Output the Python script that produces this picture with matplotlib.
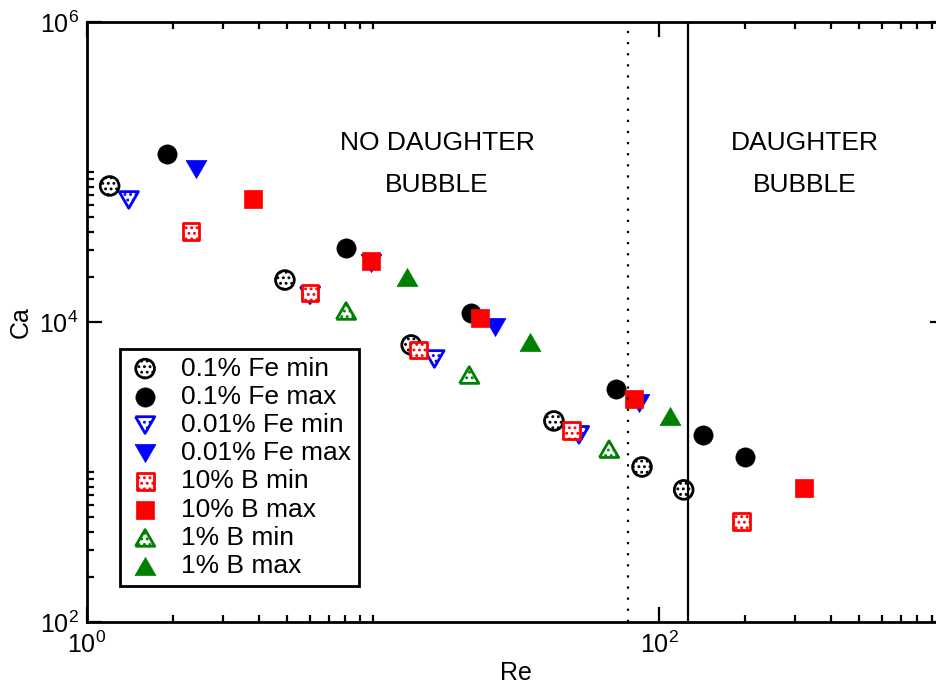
import matplotlib
matplotlib.use("Agg")
import matplotlib.pyplot as plt
from matplotlib.ticker import FixedLocator, LogFormatterSciNotation, NullFormatter
import numpy as np

plt.rcParams['font.family'] = ['Liberation Sans', 'DejaVu Sans']
plt.rcParams['mathtext.default'] = 'regular'
plt.rcParams['hatch.linewidth'] = 1.3

# ---- data (Re, Ca) ----
re_fe01_min = [1.20, 4.92, 13.6, 42.9, 87.2, 122]
ca_fe01_min = [80700, 19050, 7030, 2190, 1080, 760]

re_fe01_max = [1.90, 8.05, 22.0, 70.7, 142, 200]
ca_fe01_max = [131800, 31100, 11500, 3580, 1770, 1260]

re_fe001_min = [1.40, 6.02, 16.4, 52.5]
ca_fe001_min = [65100, 15100, 5670, 1770]

re_fe001_max = [2.40, 9.84, 26.7, 85.1]
ca_fe001_max = [104700, 24700, 9260, 2880]

re_b10_min = [2.31, 6.02, 14.4, 49.6, 195]
ca_b10_min = [40400, 15600, 6510, 1880, 471]

re_b10_max = [3.80, 9.84, 23.7, 81.8, 321]
ca_b10_max = [66100, 25500, 10600, 3070, 782]

re_b1_min = [8.05, 21.7, 66.9]
ca_b1_min = [11840, 4430, 1420]

re_b1_max = [13.2, 35.4, 109]
ca_b1_max = [19950, 7360, 2360]

re_dotted = 77.9
re_solid = 126.3

labels = ["0.1% Fe min", "0.1% Fe max", "0.01% Fe min", "0.01% Fe max",
          "10% B min", "10% B max", "1% B min", "1% B max"]

x_major = [1, 100]
x_minor = [2, 3, 4, 5, 6, 7, 8, 9, 10, 200, 300, 400, 500, 600, 700, 800, 900]
y_major = [1e2, 1e4, 1e6]
y_minor = [200, 300, 400, 500, 600, 700, 800, 900, 1000,
           2e4, 3e4, 4e4, 5e4, 6e4, 7e4, 8e4, 9e4, 1e5]

# equilateral triangle markers
tri_down = [(-1, 0.866), (1, 0.866), (0, -0.866), (-1, 0.866)]
tri_up = [(-1, -0.866), (1, -0.866), (0, 0.866), (-1, -0.866)]

fig = plt.figure(figsize=(9.36, 6.95), dpi=100)
ax = fig.add_axes([87/936, 73/695, 858/936, 600/695])
ax.set_xscale('log')
ax.set_yscale('log')
ax.set_xlim(1, 1000)
ax.set_ylim(1e2, 1e6)

circ_s = 13.5**2
sq_s = 12.5**2
tri_s = 15**2
lw_e = 2.0
hatch = '...'

handles = []
with plt.rc_context({'hatch.color': 'black'}):
    h = ax.scatter(re_fe01_min, ca_fe01_min, s=circ_s, marker='o', facecolors='white',
                   edgecolors='black', linewidths=lw_e, hatch=hatch, zorder=2)
handles.append(h)
h = ax.scatter(re_fe01_max, ca_fe01_max, s=circ_s*1.05, marker='o', facecolors='black',
               edgecolors='black', linewidths=0.5, zorder=2)
handles.append(h)
with plt.rc_context({'hatch.color': 'blue'}):
    h = ax.scatter(re_fe001_min, ca_fe001_min, s=tri_s*0.85, marker=tri_down, facecolors='white',
                   edgecolors='blue', linewidths=lw_e, hatch=hatch, zorder=2)
handles.append(h)
h = ax.scatter(re_fe001_max, ca_fe001_max, s=tri_s, marker=tri_down, facecolors='blue',
               edgecolors='blue', linewidths=0.5, zorder=2)
handles.append(h)
with plt.rc_context({'hatch.color': 'red'}):
    h = ax.scatter(re_b10_min, ca_b10_min, s=sq_s*0.95, marker='s', facecolors='white',
                   edgecolors='red', linewidths=lw_e, hatch=hatch, zorder=2)
handles.append(h)
h = ax.scatter(re_b10_max, ca_b10_max, s=sq_s, marker='s', facecolors='red',
               edgecolors='red', linewidths=0.5, zorder=2)
handles.append(h)
with plt.rc_context({'hatch.color': 'green'}):
    h = ax.scatter(re_b1_min, ca_b1_min, s=tri_s*0.85, marker=tri_up, facecolors='white',
                   edgecolors='green', linewidths=lw_e, hatch=hatch, zorder=2)
handles.append(h)
h = ax.scatter(re_b1_max, ca_b1_max, s=tri_s, marker=tri_up, facecolors='green',
               edgecolors='green', linewidths=0.5, zorder=2)
handles.append(h)

ax.axvline(re_dotted, color='black', lw=1.6, linestyle=(0, (1, 4)), zorder=3)
ax.axvline(re_solid, color='black', lw=1.6, zorder=3)

ax.text(0.408, 0.798, "NO DAUGHTER", transform=ax.transAxes, ha='center', va='center', fontsize=19)
ax.text(0.408, 0.728, "BUBBLE", transform=ax.transAxes, ha='center', va='center', fontsize=19)
ax.text(0.837, 0.798, "DAUGHTER", transform=ax.transAxes, ha='center', va='center', fontsize=19)
ax.text(0.837, 0.728, "BUBBLE", transform=ax.transAxes, ha='center', va='center', fontsize=19)

ax.xaxis.set_major_locator(FixedLocator(x_major))
ax.xaxis.set_minor_locator(FixedLocator(x_minor))
ax.yaxis.set_major_locator(FixedLocator(y_major))
ax.yaxis.set_minor_locator(FixedLocator(y_minor))
ax.xaxis.set_major_formatter(LogFormatterSciNotation())
ax.yaxis.set_major_formatter(LogFormatterSciNotation())
ax.xaxis.set_minor_formatter(NullFormatter())
ax.yaxis.set_minor_formatter(NullFormatter())

ax.tick_params(which='both', direction='in', top=True, right=True, width=1.6, labelsize=18)
ax.tick_params(which='major', length=11)
ax.tick_params(which='minor', length=5.2)
ax.tick_params(axis='x', which='major', pad=7)
ax.tick_params(axis='y', which='major', pad=6)
for sp in ax.spines.values():
    sp.set_linewidth(2.0)

ax.set_xlabel("Re", fontsize=18, labelpad=2)
ax.set_ylabel("Ca", fontsize=18, labelpad=5)

leg = ax.legend(handles, labels, loc='lower left', bbox_to_anchor=(0.0385, 0.06),
                borderaxespad=0, fontsize=19, frameon=True, fancybox=False,
                edgecolor='black', framealpha=1, scatterpoints=1,
                handlelength=1.3, handletextpad=0.7, labelspacing=0.16,
                borderpad=0.3)
leg.get_frame().set_linewidth(2.0)

fig.savefig("out.png", dpi=100)
